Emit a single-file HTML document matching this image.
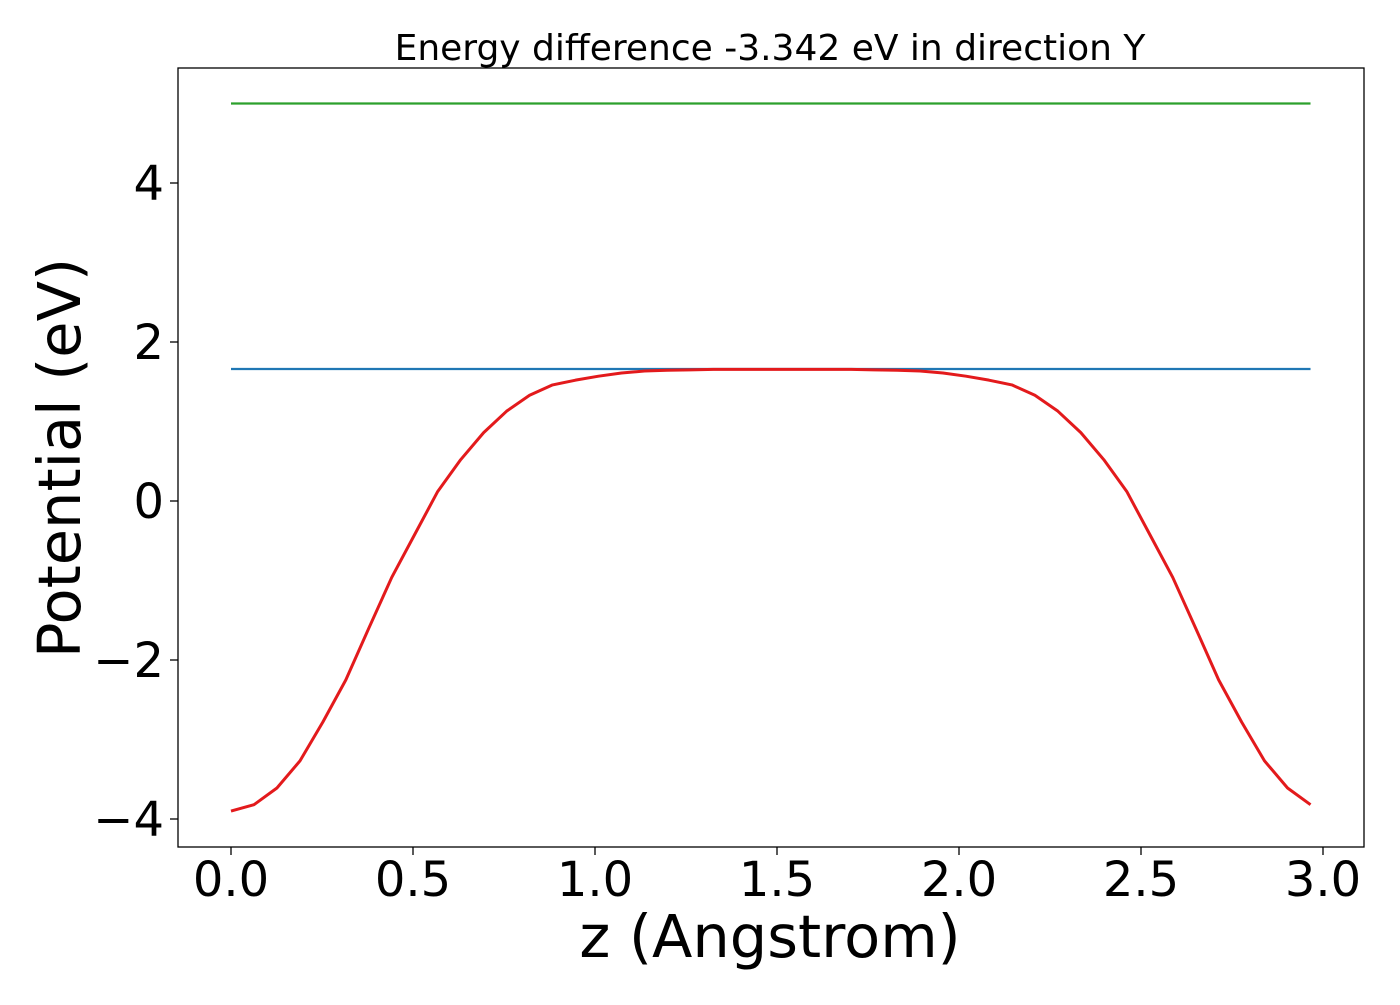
<!DOCTYPE html>
<html><head><meta charset="utf-8"><style>
body{margin:0;background:#fff}
svg text{font-family:"DejaVu Sans","Liberation Sans",sans-serif;fill:#000}
</style></head><body>
<svg id="chart" width="1400" height="1000" xmlns="http://www.w3.org/2000/svg">
<rect width="1400" height="1000" fill="#fff"/>
<text x="770" y="60" font-size="36" text-anchor="middle">Energy difference -3.342 eV in direction Y</text>
<g id="plot"></g>
<rect x="178" y="68" width="1186" height="779" fill="none" stroke="#000" stroke-width="1.3"/>
<text x="770" y="957" font-size="59" text-anchor="middle">z (Angstrom)</text>
<text transform="translate(80,458) rotate(-90)" font-size="59" text-anchor="middle">Potential (eV)</text>
</svg>
<script>
const halfValues=[-3.90,-3.82,-3.61,-3.27,-2.78,-2.25,-1.60,-0.96,-0.42,0.12,0.52,0.86,1.13,1.33,1.46,1.52,1.57,1.61,1.635,1.645,1.65,1.655,1.655,1.655,1.655];
const xStep=0.0631;
const fermiLevel=1.66;
const vacuumLevel=5.0;
const xTicks=[0.0,0.5,1.0,1.5,2.0,2.5,3.0];
const xTickLabels=["0.0","0.5","1.0","1.5","2.0","2.5","3.0"];
const yTicks=[-4,-2,0,2,4];
const yTickLabels=["\u22124","\u22122","0","2","4"];

const NS="http://www.w3.org/2000/svg";
const X=v=>231+v*364;
const Y=v=>501-v*79.5;
const g=document.getElementById('plot');
const values=[];
for(let k=0;k<48;k++){values.push(k<=24?halfValues[k]:halfValues[48-k]);}
const xs=values.map((_,i)=>i*xStep);
function mk(t,a){const e=document.createElementNS(NS,t);for(const k in a)e.setAttribute(k,a[k]);g.appendChild(e);return e;}
xTicks.forEach((t,i)=>{
  const l=mk('line',{x1:X(t),x2:X(t),y1:847,y2:855,stroke:'#000','stroke-width':1.3});
  
  
  const tx=mk('text',{x:X(t),y:896,'font-size':48,'text-anchor':'middle'});
  tx.textContent=xTickLabels[i];
  
  
});
yTicks.forEach((t,i)=>{
  const l=mk('line',{x1:170,x2:178,y1:Y(t),y2:Y(t),stroke:'#000','stroke-width':1.3});
  
  
  const tx=mk('text',{x:164,y:Y(t)+17,'font-size':48,'text-anchor':'end'});
  tx.textContent=yTickLabels[i];
  
  
});
const xEnd=xs[xs.length-1];
const vac=mk('line',{x1:X(0),x2:X(xEnd),y1:Y(vacuumLevel),y2:Y(vacuumLevel),stroke:'#2ca02c','stroke-width':2.2});


const fer=mk('line',{x1:X(0),x2:X(xEnd),y1:Y(fermiLevel),y2:Y(fermiLevel),stroke:'#1f77b4','stroke-width':2.2});


const p=mk('polyline',{points:values.map((v,i)=>X(xs[i])+','+Y(v)).join(' '),fill:'none',stroke:'#e31a1c','stroke-width':3,'stroke-linejoin':'round'});


</script>
</body></html>
